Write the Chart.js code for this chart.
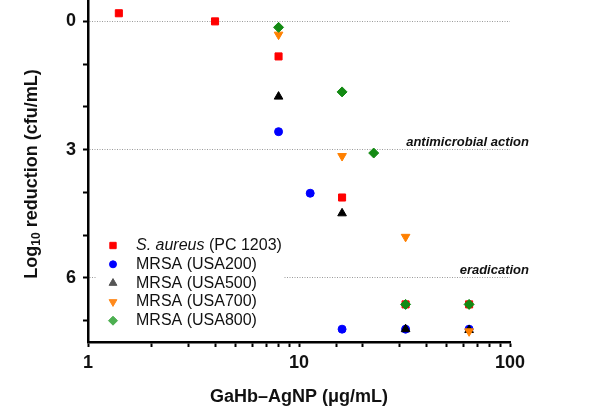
<!DOCTYPE html>
<html>
<head>
<meta charset="utf-8">
<script src="https://cdn.jsdelivr.net/npm/chart.js@4"></script>
<style>
  html, body { margin: 0; padding: 0; background: #fff; }
  #wrap { width: 600px; height: 406px; }
</style>
</head>
<body>
<div id="wrap"><canvas id="chart" width="600" height="406"></canvas></div>
<script>
const FONT = "'Liberation Sans', Arial, sans-serif";

// concentrations (µg/mL) and log10 reductions
const aureusX = [1.4, 4, 8, 16, 32, 64];
const aureusY = [-0.19, 0, 0.82, 4.12, 6.62, 6.62];
const usa200X = [8, 11.3, 16, 32, 64];
const usa200Y = [2.58, 4.02, 7.2, 7.2, 7.2];
const usa500X = [8, 16, 32, 64];
const usa500Y = [1.76, 4.49, 7.2, 7.22];
const usa700X = [8, 16, 32, 64];
const usa700Y = [0.31, 3.15, 5.04, 7.25];
const usa800X = [8, 16, 22.6, 32, 64];
const usa800Y = [0.14, 1.65, 3.08, 6.62, 6.62];

const xTickLabels = [1, 10, 100];
const yTickLabels = [0, 3, 6];
const yMinorTicks = [0, 1, 2, 3, 4, 5, 6, 7];
const refLines = [
  { y: 3, text: "antimicrobial action" },
  { y: 6, text: "eradication" }
];

function points(xs, ys) {
  return xs.map((x, i) => ({ x: x, y: ys[i] }));
}

const series = [
  { name: "S. aureus", suffix: " (PC 1203)", data: points(aureusX, aureusY), color: "#ff0000", legendColor: "#ff0000", style: "rect", radius: 5, rotation: 0, order: 4 },
  { name: "MRSA (USA200)", suffix: "", data: points(usa200X, usa200Y), color: "#0000ff", legendColor: "#0000ff", style: "circle", radius: 4, rotation: 0, order: 3 },
  { name: "MRSA (USA500)", suffix: "", data: points(usa500X, usa500Y), color: "#000000", legendColor: "#555555", style: "triangle", radius: 5, rotation: 0, order: 2 },
  { name: "MRSA (USA700)", suffix: "", data: points(usa700X, usa700Y), color: "#ff8000", legendColor: "#ff8a1c", style: "triangle", radius: 5, rotation: 180, order: 1 },
  { name: "MRSA (USA800)", suffix: "", data: points(usa800X, usa800Y), color: "#138a13", legendColor: "#4caf50", style: "rectRot", radius: 5, rotation: 0, order: 0 }
];

const overlay = {
  id: "overlay",
  afterDraw(chart) {
    const ctx = chart.ctx;
    const area = chart.chartArea;
    const yScale = chart.scales.y;

    // reference line captions
    ctx.save();
    ctx.fillStyle = "#111";
    ctx.font = "italic bold 13px " + FONT;
    ctx.textAlign = "right";
    ctx.textBaseline = "bottom";
    refLines.forEach(r => {
      ctx.fillText(r.text, area.right + 19, yScale.getPixelForValue(r.y) - 1);
    });
    ctx.restore();

    // legend box
    ctx.save();
    ctx.fillStyle = "#fff";
    ctx.fillRect(96, 236, 188, 94);
    const x0 = 113, tx = 136, top = 245.5, step = 18.8;
    series.forEach((s, i) => {
      const y = top + i * step;
      ctx.fillStyle = s.legendColor;
      ctx.strokeStyle = s.legendColor;
      ctx.lineWidth = 1;
      Chart.helpers.drawPoint(ctx, { pointStyle: s.style, radius: s.radius - 0.5, rotation: s.rotation, borderWidth: 1 }, x0, y);
      ctx.fillStyle = "#111";
      ctx.textBaseline = "middle";
      ctx.textAlign = "left";
      if (s.suffix) {
        ctx.font = "italic 16px " + FONT;
        ctx.fillText(s.name, tx, y);
        const w = ctx.measureText(s.name).width;
        ctx.font = "16px " + FONT;
        ctx.fillText(s.suffix, tx + w, y);
      } else {
        ctx.font = "16px " + FONT;
        ctx.fillText(s.name, tx, y);
      }
    });
    ctx.restore();

    // axis titles
    ctx.save();
    ctx.fillStyle = "#111";
    ctx.font = "bold 18px " + FONT;
    ctx.textAlign = "center";
    ctx.textBaseline = "middle";
    ctx.fillText("GaHb\u2013AgNP (\u03bcg/mL)", (area.left + area.right) / 2, 397);

    ctx.translate(32, 174);
    ctx.rotate(-Math.PI / 2);
    const big = "bold 18px " + FONT, small = "bold 12px " + FONT;
    ctx.font = big;
    const w1 = ctx.measureText("Log").width;
    const w3 = ctx.measureText(" reduction (cfu/mL)").width;
    ctx.font = small;
    const w2 = ctx.measureText("10").width;
    let x = -(w1 + w2 + w3) / 2;
    ctx.textAlign = "left";
    ctx.font = big;
    ctx.fillText("Log", x, 0);
    x += w1;
    ctx.font = small;
    ctx.fillText("10", x, 5);
    x += w2;
    ctx.font = big;
    ctx.fillText(" reduction (cfu/mL)", x, 0);
    ctx.restore();
  }
};

new Chart(document.getElementById("chart"), {
  type: "scatter",
  data: {
    datasets: series.map(s => ({
      label: s.name + s.suffix,
      data: s.data,
      pointStyle: s.style,
      pointRadius: s.radius,
      pointHoverRadius: s.radius,
      rotation: s.rotation,
      backgroundColor: s.color,
      borderColor: s.color,
      borderWidth: 1,
      order: s.order
    }))
  },
  options: {
    responsive: false,
    animation: false,
    layout: { autoPadding: false, padding: { top: 0, right: 90, left: 0, bottom: 0 } },
    plugins: {
      legend: { display: false },
      tooltip: { enabled: false }
    },
    scales: {
      x: {
        type: "logarithmic",
        min: 1,
        max: 100,
        afterFit(scale) {
          scale.height = 64;
          scale.paddingLeft = 0;
          scale.paddingRight = 0;
        },
        grid: {
          drawOnChartArea: false,
          drawTicks: true,
          tickLength: 5,
          tickColor: "#000",
          tickWidth: 2
        },
        border: { display: true, color: "#000", width: 2.5 },
        ticks: {
          autoSkip: false,
          maxRotation: 0,
          padding: 5,
          color: "#111",
          font: { family: FONT, size: 18, weight: "bold" },
          callback: v => (xTickLabels.includes(v) ? String(v) : "")
        }
      },
      y: {
        type: "linear",
        reverse: true,
        min: -0.5,
        max: 7.5,
        afterFit(scale) {
          scale.width = 88;
          scale.paddingTop = 0;
          scale.paddingBottom = 0;
        },
        afterBuildTicks(scale) {
          scale.ticks = yMinorTicks.map(v => ({ value: v }));
        },
        grid: {
          drawOnChartArea: true,
          drawTicks: true,
          tickLength: 5,
          tickColor: "#000",
          tickWidth: 2,
          lineWidth: 1,
          color: ctx => (ctx.tick && yTickLabels.includes(ctx.tick.value) ? "#9a9a9a" : "rgba(0,0,0,0)")
        },
        border: { display: true, color: "#000", width: 2.5, dash: [1, 1.5] },
        ticks: {
          padding: 7,
          color: "#111",
          font: { family: FONT, size: 18, weight: "bold" },
          callback: v => (yTickLabels.includes(v) ? String(v) : "")
        }
      }
    }
  },
  plugins: [overlay]
});
</script>
</body>
</html>
